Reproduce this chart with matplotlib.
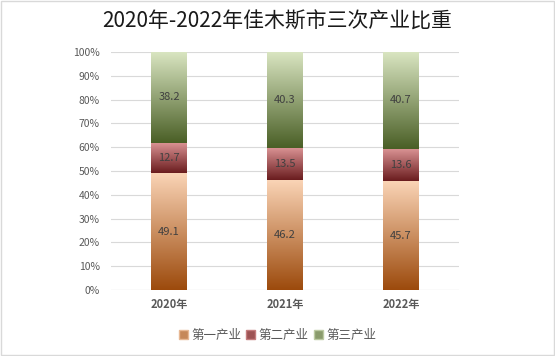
import numpy as np
import matplotlib.pyplot as plt
from matplotlib.colors import LinearSegmentedColormap
from matplotlib.ticker import FuncFormatter

plt.rcParams['font.family'] = ['Noto Sans CJK SC', 'DejaVu Sans']

years = ['2020年', '2021年', '2022年']
primary = [49.1, 46.2, 45.7]
secondary = [12.7, 13.5, 13.6]
tertiary = [38.2, 40.3, 40.7]
series_names = ['第一产业', '第二产业', '第三产业']

# gradient colours: (bottom, top)
grads = [('#9c4a0c', '#fad4b6'), ('#6a1c1e', '#dc9596'), ('#4a5f26', '#d9e5c1')]

fig = plt.figure(figsize=(5.55, 3.56), dpi=100)
ax = fig.add_axes([111 / 555, 1 - 290 / 356, 348 / 555, 238 / 356])

x = np.arange(len(years))
w = 0.31
grad = np.linspace(0, 1, 256).reshape(-1, 1)

bottom = np.zeros(len(years))
for vals, (c0, c1), name in zip([primary, secondary, tertiary], grads, series_names):
    cmap = LinearSegmentedColormap.from_list(name, [c0, c1])
    ax.bar(x, vals, w, bottom=bottom, color='none', label=name)
    for xi, b, v in zip(x, bottom, vals):
        ax.imshow(grad, cmap=cmap, origin='lower', aspect='auto',
                  extent=(xi - w / 2, xi + w / 2, b, b + v), zorder=2)
        ax.text(xi, b + v / 2, f'{v:.1f}', ha='center', va='center',
                fontsize=8, color='#404040', zorder=3)
    bottom += np.array(vals)

ax.set_xlim(-0.5, 2.5)
ax.set_ylim(0, 100)
ax.set_yticks(np.arange(0, 101, 10))
ax.yaxis.set_major_formatter(FuncFormatter(lambda v, p: f'{v:.0f}%'))
ax.set_xticks(x)
ax.set_xticklabels(years, fontsize=8, fontweight='bold', color='#595959')
ax.tick_params(axis='y', labelsize=7.5, labelcolor='#595959', length=0, pad=8)
ax.tick_params(axis='x', length=0, pad=6)
ax.grid(axis='y', color='#d9d9d9', linewidth=0.8, zorder=0)
ax.set_axisbelow(True)
for s in ax.spines.values():
    s.set_visible(False)
ax.axhline(0, color='#d9d9d9', linewidth=0.8, zorder=1)

fig.suptitle('2020年-2022年佳木斯市三次产业比重', fontsize=15, y=0.97, color='#1a1a1a')

handles = []
for (c0, c1), name in zip(grads, series_names):
    cmap = LinearSegmentedColormap.from_list(name, [c0, c1])
    handles.append(plt.Rectangle((0, 0), 1, 1, facecolor=cmap(0.45), edgecolor=cmap(0.8), linewidth=1))
fig.legend(handles, series_names, loc='center', bbox_to_anchor=(0.5, 1 - 335 / 356),
           ncol=3, frameon=False, fontsize=9, handlelength=0.7, handleheight=0.7,
           handletextpad=0.3, columnspacing=0.4, labelcolor='#595959')

fig.patches.append(plt.Rectangle((0.001, 0.002), 0.997, 0.995, transform=fig.transFigure,
                                 fill=False, edgecolor='#d9d9d9', linewidth=1))

fig.savefig('out.png', dpi=100)
